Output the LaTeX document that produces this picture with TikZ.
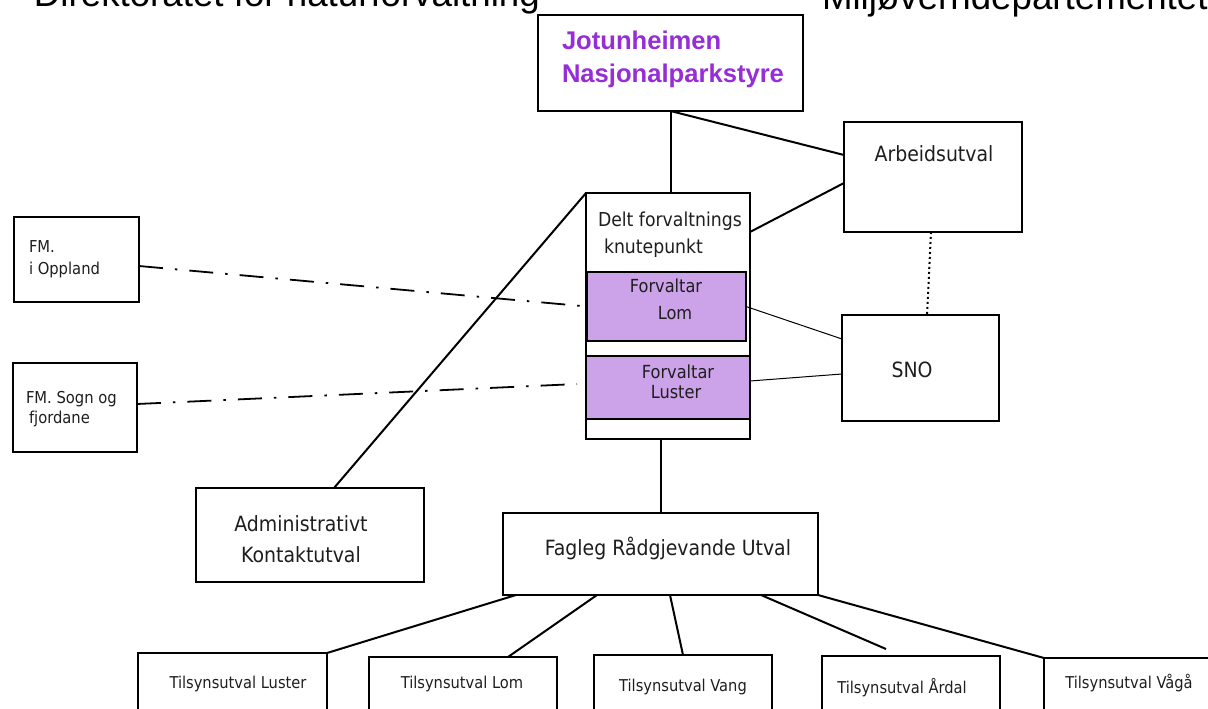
\documentclass[tikz,border=0pt]{standalone}
\usepackage{fontspec}
\setmainfont{DejaVu Sans Condensed}
\newfontfamily\arialf{Liberation Sans}
\usepackage{pdfrender}
\usetikzlibrary{fit}
\definecolor{jotpurple}{RGB}{150,45,215}
\definecolor{lav}{RGB}{204,162,232}
\definecolor{ink}{RGB}{30,30,30}
\begin{document}
\begin{tikzpicture}[x=1pt,y=-1pt,
  box/.style={draw=black, line width=2.7pt, inner sep=0pt, outer sep=0pt},
  lavbox/.style={box, fill=lav},
  lbl/.style={inner sep=0pt, outer sep=0pt, text=ink, font=\fontsize{21}{25}\selectfont},
  mid/.style={lbl, font=\fontsize{18}{22}\selectfont},
  small/.style={lbl, font=\fontsize{16.4}{20}\selectfont},
  jottext/.style={inner sep=0pt, outer sep=0pt, anchor=base west, text=jotpurple, font=\fontsize{25.6}{30}\arialf\bfseries},
  outl/.style={inner sep=0pt, outer sep=0pt, anchor=base west, font=\fontsize{36.7}{40}\arialf},
  conn/.style={line width=2pt},
  thinconn/.style={line width=1pt},
  dashdot/.style={line width=1.8pt, dash pattern=on 24pt off 12pt on 2.5pt off 12pt},
  dotconn/.style={line width=2pt, dash pattern=on 2pt off 3pt}]
\useasboundingbox (0,0) rectangle (1208,709);

% cut-off headings (outlined letters)
\node[outl] (dirn) at (34,7) {\textpdfrender{TextRenderingMode=FillStroke,FillColor=white,StrokeColor=black,LineWidth=0.9pt}{Direktoratet for naturforvaltning}};
\node[outl] (md) at (822,10) {\textpdfrender{TextRenderingMode=FillStroke,FillColor=white,StrokeColor=black,LineWidth=0.9pt}{Miljøverndepartementet}};

% boxes
\node[box, fit={(538,15)(803,111)}] (jot) {};
\node[box, fit={(844,122)(1022,232)}] (arbeid) {};
\node[box, fit={(586,193)(750,439)}] (delt) {};
\node[lavbox, fit={(587,272)(746,341)}] (flom) {};
\node[lavbox, fit={(586,356)(750,419)}] (fluster) {};
\node[box, fit={(842,315)(999,421)}] (sno) {};
\node[box, fit={(14,217)(139,302)}] (oppland) {};
\node[box, fit={(13,363)(137,452)}] (sogn) {};
\node[box, fit={(196,488)(424,582)}] (admin) {};
\node[box, fit={(503,513)(818,595)}] (fagleg) {};
\node[box, fit={(138,653)(327,730)}] (tluster) {};
\node[box, fit={(369,657)(557,730)}] (tlom) {};
\node[box, fit={(594,655)(772,730)}] (tvang) {};
\node[box, fit={(822,656)(1000,730)}] (tardal) {};
\node[box, fit={(1044,658)(1230,730)}] (tvaga) {};

% texts
\node[jottext] (jt1) at (562,50) {Jotunheimen};
\node[jottext] (jt2) at (562,83) {Nasjonalparkstyre};
\node[lbl, anchor=base] (at) at (934,161) {Arbeidsutval};
\node[lbl, anchor=base] (st) at (912,377) {SNO};
\node[mid, anchor=base west, font=\fontsize{19.2}{22}\selectfont] (dt1) at (598,226) {Delt forvaltnings};
\node[mid, anchor=base west, font=\fontsize{19.2}{22}\selectfont] (dt2) at (604,253) {knutepunkt};
\node[mid, anchor=base] (fl1) at (666,292) {Forvaltar};
\node[mid, anchor=base] (fl2) at (675,319) {Lom};
\node[mid, anchor=base] (fu1) at (678,378) {Forvaltar};
\node[mid, anchor=base] (fu2) at (676,398) {Luster};
\node[small, anchor=base west] (ot1) at (29,252) {FM.};
\node[small, anchor=base west] (ot2) at (29,274) {i Oppland};
\node[small, anchor=base west] (sg1) at (26,403) {FM. Sogn og};
\node[small, anchor=base west] (sg2) at (29,423) {fjordane};
\node[lbl, anchor=base] (ad1) at (301,531) {Administrativt};
\node[lbl, anchor=base] (ad2) at (301,562) {Kontaktutval};
\node[lbl, anchor=base] (fg) at (668,555) {Fagleg Rådgjevande Utval};
\node[small, anchor=base, font=\fontsize{16.3}{20}\selectfont] (tt1) at (238,688) {Tilsynsutval Luster};
\node[small, anchor=base, font=\fontsize{16.3}{20}\selectfont] (tt2) at (462,688) {Tilsynsutval Lom};
\node[small, anchor=base, font=\fontsize{16.3}{20}\selectfont] (tt3) at (683,691) {Tilsynsutval Vang};
\node[small, anchor=base, font=\fontsize{16.3}{20}\selectfont] (tt4) at (902,693) {Tilsynsutval Årdal};
\node[small, anchor=base, font=\fontsize{16.3}{20}\selectfont] (tt5) at (1129,688) {Tilsynsutval Vågå};

% connectors
\coordinate (ardalend) at (886,649);
\coordinate (sognend) at (577,384);
\draw[conn] (jot.south) -- (jot.south |- delt.north);
\draw[conn] (jot.south) -- ([yshift=22pt]arbeid.west);
\draw[conn] ([yshift=84pt]delt.east) -- ([yshift=-6pt]arbeid.west);
\draw[conn] (delt.north west) -- ([xshift=24pt]admin.north);
\draw[dotconn] ([xshift=-2pt]arbeid.south) -- ([xshift=6.5pt]sno.north);
\draw[thinconn] (flom.east) -- ([yshift=29pt]sno.west);
\draw[thinconn] ([yshift=6.5pt]fluster.east) -- ([yshift=-6pt]sno.west);
\draw[dashdot] ([yshift=-6.5pt]oppland.east) -- (flom.west);
\draw[dashdot] ([yshift=3.5pt]sogn.east) -- (sognend);
\draw[conn] (fagleg.north |- delt.south) -- (fagleg.north);
\draw[conn] ([xshift=13pt]fagleg.south west) -- (tluster.north east);
\draw[conn] ([xshift=94pt]fagleg.south west) -- ([xshift=45pt]tlom.north);
\draw[conn] ([xshift=9.5pt]fagleg.south) -- (tvang.north);
\draw[conn] ([xshift=100.5pt]fagleg.south) -- (ardalend);
\draw[conn] (fagleg.south east) -- (tvaga.north west);
\end{tikzpicture}
\end{document}
